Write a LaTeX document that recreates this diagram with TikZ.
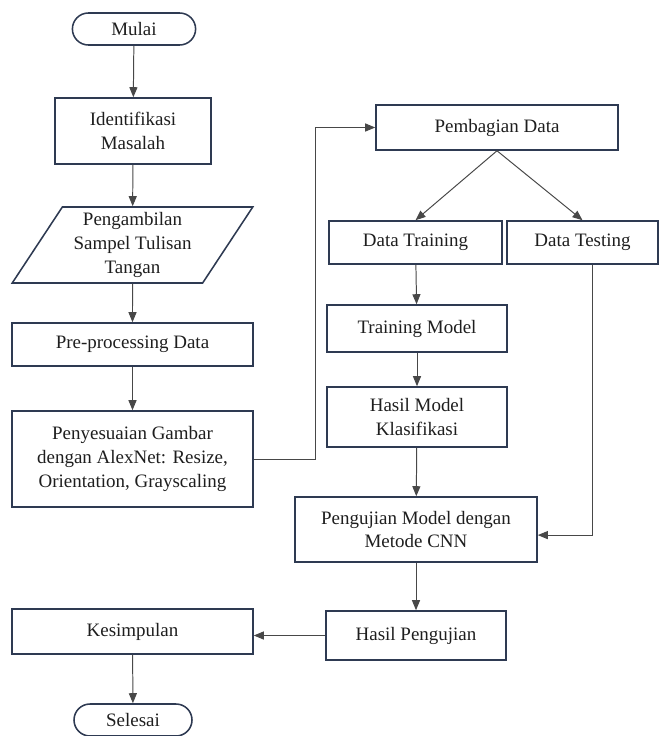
\documentclass[tikz,border=0pt]{standalone}
\usepackage{fontspec}
\setmainfont{Liberation Serif}
\usetikzlibrary{shapes.geometric,arrows.meta}
\definecolor{garisbox}{HTML}{2E3A52}
\definecolor{garispanah}{HTML}{484848}
\definecolor{teks}{HTML}{1E1E1E}

\begin{document}
\begin{tikzpicture}[
    proses/.style={rectangle, draw=garisbox, line width=1.1pt, align=center, inner sep=2pt, text=teks, font=\fontsize{13.5}{17}\selectfont},
    terminal/.style={proses, rounded corners=0.4cm, minimum height=0.8cm},
    masukan/.style={proses, trapezium, trapezium left angle=58, trapezium right angle=122, trapezium stretches=true},
    panah/.style={draw=garispanah, line width=0.7pt, -{Triangle[length=0.25cm,width=0.2cm]}}
]
    \useasboundingbox (0,0) rectangle (16.525,-18.4);
    % Define nodes, left column
    \node[terminal, minimum width=3.08cm] (mulai) at (3.35, -0.725) {Mulai};
    \node[proses, minimum width=3.9cm, minimum height=1.65cm] (identifikasi) at (3.325, -3.275) {Identifikasi\\Masalah};
    \node[masukan, minimum width=6.025cm, minimum height=1.9cm] (sampel) at (3.3125, -6.125) {Pengambilan\\Sampel Tulisan\\Tangan};
    \node[proses, minimum width=6.025cm, minimum height=1.075cm] (preproses) at (3.3125, -8.6125) {Pre-processing Data};
    \node[proses, minimum width=6.025cm, minimum height=2.4cm] (sesuai) at (3.3125, -11.475) {Penyesuaian Gambar\\dengan AlexNet: Resize,\\Orientation, Grayscaling};
    \node[proses, minimum width=6.025cm, minimum height=1.125cm] (simpulan) at (3.3125, -15.7875) {Kesimpulan};
    \node[terminal, minimum width=2.95cm] (selesai) at (3.325, -18.0) {Selesai};
    % Define nodes, right column
    \node[proses, minimum width=6.05cm, minimum height=1.125cm] (bagi) at (12.425, -3.1875) {Pembagian Data};
    \node[proses, minimum width=4.325cm, minimum height=1.075cm] (training) at (10.3875, -6.0625) {Data Training};
    \node[proses, minimum width=3.775cm, minimum height=1.075cm] (testing) at (14.5625, -6.0625) {Data Testing};
    \node[proses, minimum width=4.5cm, minimum height=1.175cm] (latih) at (10.425, -8.2125) {Training Model};
    \node[proses, minimum width=4.5cm, minimum height=1.5cm] (hasilmodel) at (10.425, -10.425) {Hasil Model\\Klasifikasi};
    \node[proses, minimum width=6.05cm, minimum height=1.625cm] (uji) at (10.4, -13.2375) {Pengujian Model dengan\\Metode CNN};
    \node[proses, minimum width=4.5cm, minimum height=1.225cm] (hasiluji) at (10.4, -15.8875) {Hasil Pengujian};
    % Draw arrows
    \draw[panah] (mulai) -- (identifikasi);
    \draw[panah] (identifikasi) -- (sampel);
    \draw[panah] (sampel) -- (preproses);
    \draw[panah] (preproses) -- (sesuai);
    \draw[panah] (sesuai.east) -- ++(1.55,0) |- (bagi.west);
    \draw[panah] (bagi.south) -- (training.north);
    \draw[panah] (bagi.south) -- (testing.north);
    \draw[panah] (training) -- (latih);
    \draw[panah] (latih) -- (hasilmodel);
    \draw[panah] (hasilmodel) -- (uji);
    \draw[panah] ([xshift=0.25cm]testing.south) |- ([yshift=-0.14cm]uji.east);
    \draw[panah] (uji) -- (hasiluji);
    \draw[panah] (hasiluji.west) -- (hasiluji.west -| simpulan.east);
    \draw[panah] (simpulan) -- (selesai);
\end{tikzpicture}
\end{document}
